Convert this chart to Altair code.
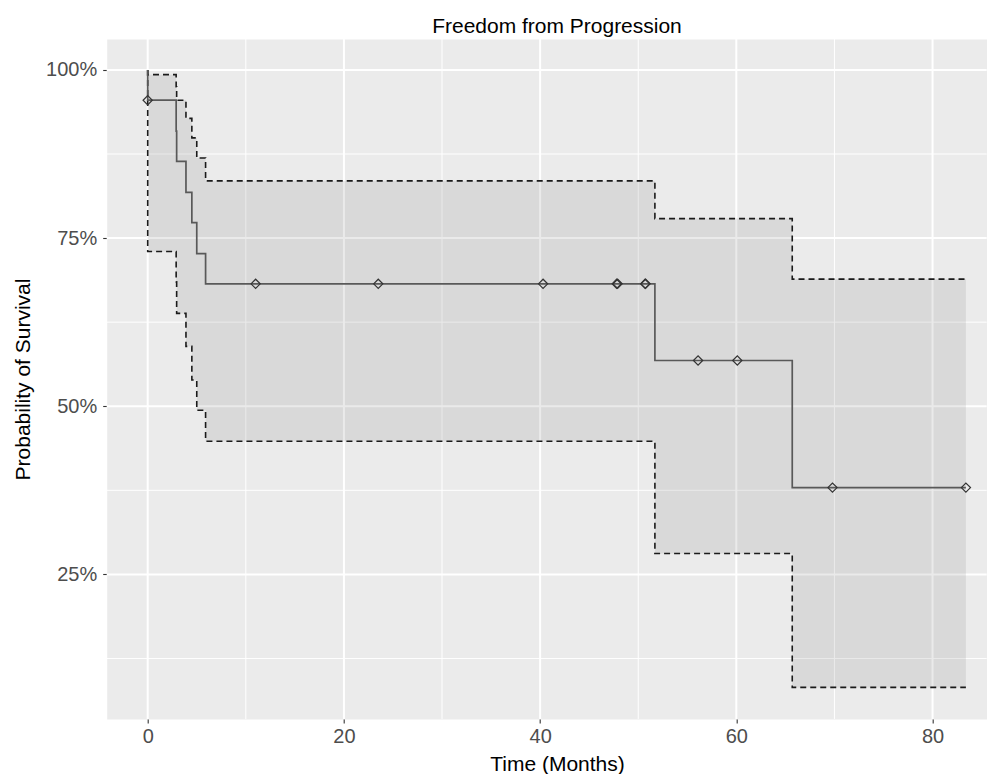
import altair as alt
import pandas as pd

# Kaplan-Meier estimate with confidence band (values in %)
time = [0, 0, 2.9, 2.95, 3.9, 4.5, 5.0, 5.9, 51.7, 65.7, 83.4]
surv = [100, 95.5, 90.9, 86.4, 81.8, 77.3, 72.7, 68.2, 56.8, 37.9, 37.9]
upper = [100, 99.3, 97.5, 95.5, 92.8, 89.9, 86.9, 83.5, 77.9, 68.9, 68.9]
lower = [100, 73.0, 68.5, 63.8, 58.9, 53.9, 49.4, 44.8, 28.1, 8.2, 8.2]

# censoring marks
cens_time = [0, 11.0, 23.5, 40.3, 47.8, 47.9, 50.7, 50.75, 56.1, 60.1, 69.8, 83.4]
cens_surv = [95.5, 68.2, 68.2, 68.2, 68.2, 68.2, 68.2, 68.2, 56.8, 56.8, 37.9, 37.9]

# axis ticks / grid
x_major = [0, 20, 40, 60, 80]
x_minor = [10, 30, 50, 70]
y_major = [25, 50, 75, 100]
y_minor = [12.5, 37.5, 62.5, 87.5]

chart_title = ["Freedom from Progression"]

W, H = 880, 680
X_DOMAIN = [-4.18, 85.52]
Y_DOMAIN = [3.5, 104.6]
FONT = "Liberation Sans"

km = pd.DataFrame({"t": time, "s": surv, "hi": upper, "lo": lower})
cens = pd.DataFrame({"t": cens_time, "s": cens_surv})

xs = alt.Scale(domain=X_DOMAIN, nice=False, zero=False)
ys = alt.Scale(domain=Y_DOMAIN, nice=False, zero=False)

x_axis = alt.Axis(
    values=x_major, grid=False, domain=False, tickSize=4, tickColor="#333333",
    tickWidth=1.1, labelFontSize=20, labelColor="#4D4D4D", labelPadding=4,
    labelFont=FONT, title="Time (Months)", titleFontSize=21, titleFont=FONT,
    titleFontWeight="normal", titleColor="black", titlePadding=7, titleX=450.3,
)
y_axis = alt.Axis(
    values=y_major, grid=False, domain=False, tickSize=4, tickColor="#333333",
    tickWidth=1.1, labelFontSize=20, labelColor="#4D4D4D", labelPadding=6,
    labelFont=FONT, labelExpr="datum.value + '%'",
    title="Probability of Survival", titleFontSize=21, titleFont=FONT,
    titleFontWeight="normal", titleColor="black", titlePadding=12,
)

xmaj = pd.DataFrame({"v": x_major})
xmin = pd.DataFrame({"v": x_minor})
ymaj = pd.DataFrame({"v": y_major})
ymin = pd.DataFrame({"v": y_minor})

grid_xmin = alt.Chart(xmin).mark_rule(color="white", strokeWidth=1).encode(
    x=alt.X("v:Q", scale=xs, axis=x_axis))
grid_ymin = alt.Chart(ymin).mark_rule(color="white", strokeWidth=1).encode(
    y=alt.Y("v:Q", scale=ys, axis=y_axis))
grid_xmaj = alt.Chart(xmaj).mark_rule(color="white", strokeWidth=2).encode(
    x=alt.X("v:Q", scale=xs))
grid_ymaj = alt.Chart(ymaj).mark_rule(color="white", strokeWidth=2).encode(
    y=alt.Y("v:Q", scale=ys))

band = alt.Chart(km).mark_area(
    interpolate="step-after", color="#808080", opacity=0.17
).encode(x=alt.X("t:Q", scale=xs), y=alt.Y("lo:Q", scale=ys), y2="hi:Q")

hi_line = alt.Chart(km).mark_line(
    interpolate="step-after", color="#1a1a1a", strokeWidth=1.6, strokeDash=[6, 4]
).encode(x=alt.X("t:Q", scale=xs), y=alt.Y("hi:Q", scale=ys))

lo_line = alt.Chart(km).mark_line(
    interpolate="step-after", color="#1a1a1a", strokeWidth=1.6, strokeDash=[6, 4]
).encode(x=alt.X("t:Q", scale=xs), y=alt.Y("lo:Q", scale=ys))

s_line = alt.Chart(km).mark_line(
    interpolate="step-after", color="#595959", strokeWidth=1.7
).encode(x=alt.X("t:Q", scale=xs), y=alt.Y("s:Q", scale=ys))

marks = alt.Chart(cens).mark_point(
    shape="diamond", size=85, filled=False, color="#333333", strokeWidth=1.2, opacity=1
).encode(x=alt.X("t:Q", scale=xs), y=alt.Y("s:Q", scale=ys))

title_mark = alt.Chart(pd.DataFrame({"title": chart_title})).mark_text(
    font=FONT, fontSize=21, color="black", align="center", baseline="alphabetic"
).encode(x=alt.value(450.3), y=alt.value(-5.7), text="title:N")

chart = alt.layer(
    grid_xmin, grid_ymin, grid_xmaj, grid_ymaj, band, hi_line, lo_line, s_line,
    marks, title_mark
).properties(
    width=W, height=H,
    autosize=alt.AutoSizeParams(type="none"),
    padding={"left": 98.7, "top": 31, "right": 0, "bottom": 58},
).configure(
    font=FONT, background="white"
).configure_view(
    fill="#EBEBEB", stroke="transparent"
)

chart.save("out.html", embed_options={"renderer": "svg", "actions": False})
